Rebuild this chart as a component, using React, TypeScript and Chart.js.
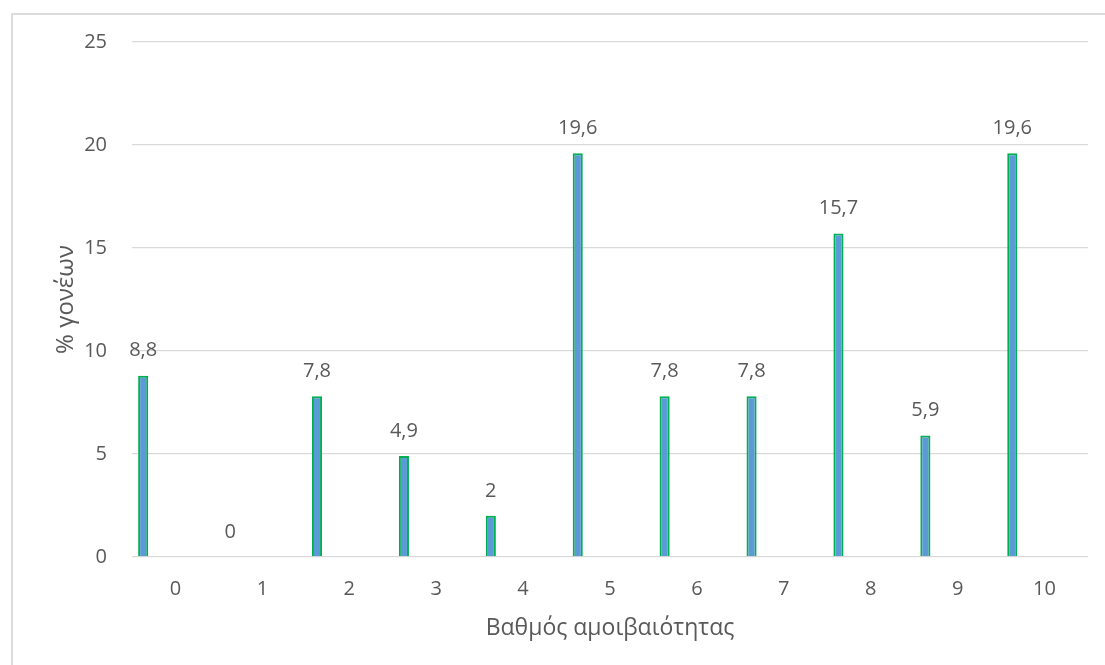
import React, { useEffect, useRef } from "react";
import { Chart, registerables } from "chart.js";

Chart.register(...registerables);

const categories: string[] = ["0", "1", "2", "3", "4", "5", "6", "7", "8", "9", "10"];
const percentParents: number[] = [8.8, 0, 7.8, 4.9, 2, 19.6, 7.8, 7.8, 15.7, 5.9, 19.6];
const yTicks: number[] = [0, 5, 10, 15, 20, 25];
const xTitle = "Βαθμός αμοιβαιότητας";
const yTitle = "% γονέων";

const FONT = "'Open Sans', 'DejaVu Sans', sans-serif";
const TEXT = "#595959";

const labelPlugin = {
  id: "barValueLabels",
  afterDatasetsDraw(chart: any) {
    const ctx = chart.ctx;
    const meta = chart.getDatasetMeta(0);
    const data = chart.data.datasets[0].data as number[];
    ctx.save();
    ctx.font = `20px ${FONT}`;
    ctx.fillStyle = TEXT;
    ctx.textAlign = "center";
    ctx.textBaseline = "middle";
    meta.data.forEach((el: any, i: number) => {
      const v = data[i];
      if (v === null || v === undefined) return;
      ctx.fillText(String(v).replace(".", ","), el.x, el.y - 25);
    });
    ctx.restore();
  },
};

export default function App() {
  const ref = useRef<HTMLCanvasElement | null>(null);
  useEffect(() => {
    if (!ref.current) return;
    const empty = categories.map(() => null);
    const chart = new Chart(ref.current, {
      type: "bar",
      data: {
        labels: categories,
        datasets: [
          {
            data: percentParents,
            backgroundColor: "#5b9bd5",
            borderColor: "#00b050",
            borderWidth: 2,
          },
          { data: empty as any },
          { data: empty as any },
          { data: empty as any },
        ],
      },
      options: {
        responsive: false,
        animation: false,
        events: [],
        layout: { padding: { top: 42, right: 17, bottom: 0, left: 0 } },
        datasets: {
          bar: { categoryPercentage: 0.99, barPercentage: 0.47 },
        },
        plugins: {
          legend: { display: false },
          tooltip: { enabled: false },
          title: { display: false },
        },
        scales: {
          x: {
            grid: { display: false, drawTicks: false },
            border: { display: false },
            ticks: {
              color: TEXT,
              font: { family: FONT, size: 20 },
              padding: 20,
              maxRotation: 0,
            },
            title: {
              display: true,
              text: xTitle,
              color: TEXT,
              font: { family: FONT, size: 23 },
              padding: { top: 0, bottom: 23 },
            },
            afterFit: (scale: any) => {
              scale.height = 108;
            },
          },
          y: {
            min: 0,
            max: 25,
            afterBuildTicks: (scale: any) => {
              scale.ticks = yTicks.map((v) => ({ value: v }));
            },
            grid: { color: "#d9d9d9", lineWidth: 1.3, drawTicks: false },
            border: { display: false },
            ticks: {
              color: TEXT,
              font: { family: FONT, size: 20 },
              padding: 25,
            },
            title: {
              display: true,
              text: yTitle,
              color: TEXT,
              font: { family: FONT, size: 24 },
              padding: { top: 52, bottom: 0 },
            },
            afterFit: (scale: any) => {
              scale.width = 132;
            },
          },
        },
      },
      plugins: [labelPlugin],
    });
    return () => chart.destroy();
  }, []);

  return (
    <div style={{ position: "absolute", left: 0, top: 0, width: 1105, height: 665, background: "#fff", overflow: "hidden" }}>
      <div
        style={{
          position: "absolute",
          left: 11,
          top: 13,
          width: 1200,
          height: 700,
          borderLeft: "2px solid #dcdcdc",
          borderTop: "2px solid #dcdcdc",
        }}
      />
      <canvas ref={ref} width={1105} height={665} style={{ position: "absolute", left: 0, top: 0 }} />
    </div>
  );
}
